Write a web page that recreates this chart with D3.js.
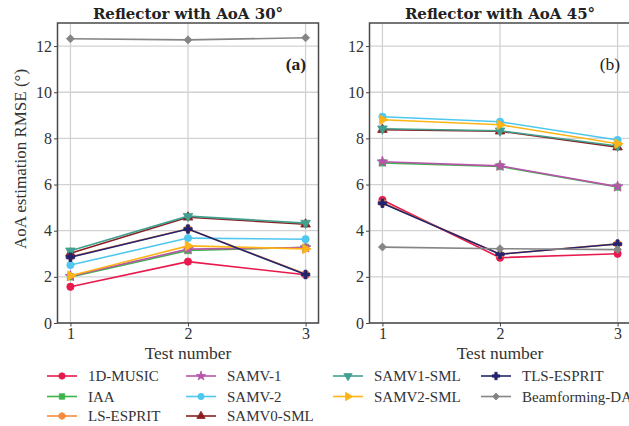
<!DOCTYPE html>
<html>
<head>
<meta charset="utf-8">
<script src="https://cdn.jsdelivr.net/npm/d3@7"></script>
<style>
  body { margin: 0; background: #fff; }
  svg { display: block; }
</style>
</head>
<body>
<svg id="chart" width="629" height="426"></svg>
<script>
// Test scenarios on the x axis
const tests = [1, 2, 3];

// Estimators, in drawing / legend order
const methods = ["1D-MUSIC", "IAA", "LS-ESPRIT", "SAMV-1", "SAMV-2",
                 "SAMV0-SML", "SAMV1-SML", "SAMV2-SML", "TLS-ESPRIT", "Beamforming-DAS"];
const colors = ["#e8194d", "#3cb44b", "#f58a3c", "#b655aa", "#4fc8ef",
                "#8a1f22", "#41a08f", "#fdb416", "#23236e", "#858585"];
const markers = ["circle", "square", "hexagon", "star", "circle",
                 "triUp", "triDown", "triRight", "plus", "diamond"];

// AoA estimation RMSE (degrees), one row per estimator, one column per test
const rmse30 = [
  [1.57, 2.66, 2.09],
  [2.00, 3.14, 3.28],
  [2.87, 4.08, 2.12],
  [2.03, 3.20, 3.27],
  [2.51, 3.68, 3.63],
  [3.02, 4.58, 4.28],
  [3.13, 4.63, 4.33],
  [2.05, 3.34, 3.21],
  [2.85, 4.07, 2.10],
  [12.32, 12.27, 12.36]
];
const rmse45 = [
  [5.33, 2.83, 3.00],
  [6.94, 6.78, 5.89],
  [5.21, 2.98, 3.43],
  [6.99, 6.81, 5.91],
  [8.94, 8.72, 7.93],
  [8.38, 8.31, 7.62],
  [8.42, 8.33, 7.67],
  [8.81, 8.59, 7.77],
  [5.19, 2.98, 3.42],
  [3.29, 3.22, 3.18]
];

const yTicks = [0, 2, 4, 6, 8, 10, 12];
const panelTitles = ["Reflector with AoA 30°", "Reflector with AoA 45°"];
const panelTags = ["(a)", "(b)"];
const xLabel = "Test number";
const yLabel = "AoA estimation RMSE (°)";

const svg = d3.select("#chart");
const serif = "'Liberation Serif', 'Times New Roman', serif";

// Custom hexagon symbol for d3.symbol
const symbolHexagon = {
  draw(ctx, size) {
    const r = Math.sqrt(size * 2 / (3 * Math.sqrt(3)));
    for (let i = 0; i < 6; i++) {
      const a = Math.PI / 6 + i * Math.PI / 3;
      const px = r * Math.cos(a), py = r * Math.sin(a);
      if (i === 0) ctx.moveTo(px, py); else ctx.lineTo(px, py);
    }
    ctx.closePath();
  }
};

function markerSpec(kind, scale) {
  const s = scale;
  switch (kind) {
    case "circle":   return { type: d3.symbolCircle, size: 42 * s, rot: 0 };
    case "square":   return { type: d3.symbolSquare, size: 40 * s, rot: 0 };
    case "hexagon":  return { type: symbolHexagon, size: 42 * s, rot: 0 };
    case "star":     return { type: d3.symbolStar, size: 36 * s, rot: 0 };
    case "triUp":    return { type: d3.symbolTriangle, size: 40 * s, rot: 0 };
    case "triDown":  return { type: d3.symbolTriangle, size: 40 * s, rot: 180 };
    case "triRight": return { type: d3.symbolTriangle, size: 40 * s, rot: 90 };
    case "plus":     return { type: d3.symbolCross, size: 40 * s, rot: 0 };
    case "diamond":  return { type: d3.symbolSquare, size: 32 * s, rot: 45 };
  }
}

function drawMarker(g, kind, color, cx, cy, scale) {
  const m = markerSpec(kind, scale);
  g.append("path")
    .attr("d", d3.symbol(m.type, m.size)())
    .attr("transform", `translate(${cx},${cy}) rotate(${m.rot})`)
    .attr("fill", color)
    .attr("stroke", color)
    .attr("stroke-width", 0.8);
}

const plotTop = 23, plotBottom = 323;
const panels = [
  { x0: 57.5, x1: 318.5, data: rmse30 },
  { x0: 369.5, x1: 630.5, data: rmse45 }
];

const y = d3.scaleLinear().domain([0, 13]).range([plotBottom, plotTop]);

panels.forEach((p, pi) => {
  const x = d3.scaleLinear().domain([0.89, 3.11]).range([p.x0, p.x1]);
  const g = svg.append("g");

  // grid
  g.append("g").selectAll("line").data(yTicks).join("line")
    .attr("x1", p.x0).attr("x2", p.x1)
    .attr("y1", d => y(d)).attr("y2", d => y(d))
    .attr("stroke", "#d2d2d2").attr("stroke-width", 1.3);
  g.append("g").selectAll("line").data(tests).join("line")
    .attr("x1", d => x(d)).attr("x2", d => x(d))
    .attr("y1", plotTop).attr("y2", plotBottom)
    .attr("stroke", "#d2d2d2").attr("stroke-width", 1.3);

  // axes with outward ticks
  const yAxis = d3.axisLeft(y).tickValues(yTicks).tickSize(3.5).tickPadding(2).tickFormat(d3.format("d"));
  const xAxis = d3.axisBottom(x).tickValues(tests).tickSize(3.5).tickPadding(1.5).tickFormat(d3.format("d"));
  const ya = g.append("g").attr("transform", `translate(${p.x0},0)`).call(yAxis);
  const xa = g.append("g").attr("transform", `translate(0,${plotBottom})`).call(xAxis);
  [ya, xa].forEach(a => {
    a.select(".domain").remove();
    a.selectAll("line").attr("stroke", "#444").attr("stroke-width", 1);
    a.selectAll("text").attr("font-family", serif).attr("font-size", 16).attr("fill", "#333");
  });

  // series: line then markers, in legend order
  const line = d3.line().x((d, i) => x(tests[i])).y(d => y(d));
  p.data.forEach((vals, mi) => {
    const sg = g.append("g");
    sg.append("path").datum(vals)
      .attr("d", line)
      .attr("fill", "none")
      .attr("stroke", colors[mi])
      .attr("stroke-width", 1.6);
    vals.forEach((v, i) => drawMarker(sg, markers[mi], colors[mi], x(tests[i]), y(v), 1));
  });

  // frame
  g.append("rect")
    .attr("x", p.x0).attr("y", plotTop)
    .attr("width", p.x1 - p.x0).attr("height", plotBottom - plotTop)
    .attr("fill", "none").attr("stroke", "#4a4a4a").attr("stroke-width", 1.5);

  // title
  g.append("text")
    .attr("x", (p.x0 + p.x1) / 2).attr("y", 19)
    .attr("text-anchor", "middle")
    .attr("font-family", "'DejaVu Serif', serif")
    .attr("font-weight", "bold")
    .attr("font-size", 15)
    .attr("fill", "#222")
    .text(panelTitles[pi]);

  // panel tag
  g.append("text")
    .attr("x", x(3) + (pi === 0 ? 0.5 : 2.5)).attr("y", 70)
    .attr("text-anchor", "end")
    .attr("font-family", serif)
    .attr("font-weight", pi === 0 ? "bold" : "normal")
    .attr("font-size", 17.5)
    .attr("fill", "#222")
    .text(panelTags[pi]);

  // x label
  g.append("text")
    .attr("x", (p.x0 + p.x1) / 2).attr("y", 359)
    .attr("text-anchor", "middle")
    .attr("font-family", serif)
    .attr("font-size", 17.5)
    .attr("fill", "#333")
    .text(xLabel);
});

// y label
svg.append("text")
  .attr("transform", "translate(26,159) rotate(-90)")
  .attr("text-anchor", "middle")
  .attr("font-family", serif)
  .attr("font-size", 17)
  .attr("fill", "#333")
  .text(yLabel);

// legend: four columns holding 3, 3, 2 and 2 entries
const legCols = [47, 186, 333, 481];
const legColStart = [0, 3, 6, 8];
const legRows = [376, 396.5, 416];
const legend = svg.append("g");
methods.forEach((name, i) => {
  const col = d3.bisectRight(legColStart, i) - 1;
  const row = i - legColStart[col];
  const lx = legCols[col], ly = legRows[row];
  const lg = legend.append("g");
  lg.append("line")
    .attr("x1", lx).attr("x2", lx + 30)
    .attr("y1", ly).attr("y2", ly)
    .attr("stroke", colors[i]).attr("stroke-width", 1.6);
  drawMarker(lg, markers[i], colors[i], lx + 15, ly, 0.75);
  lg.append("text")
    .attr("x", lx + 41).attr("y", ly + 5)
    .attr("font-family", serif)
    .attr("font-size", 15)
    .attr("fill", "#333")
    .text(name);
});
</script>
</body>
</html>
